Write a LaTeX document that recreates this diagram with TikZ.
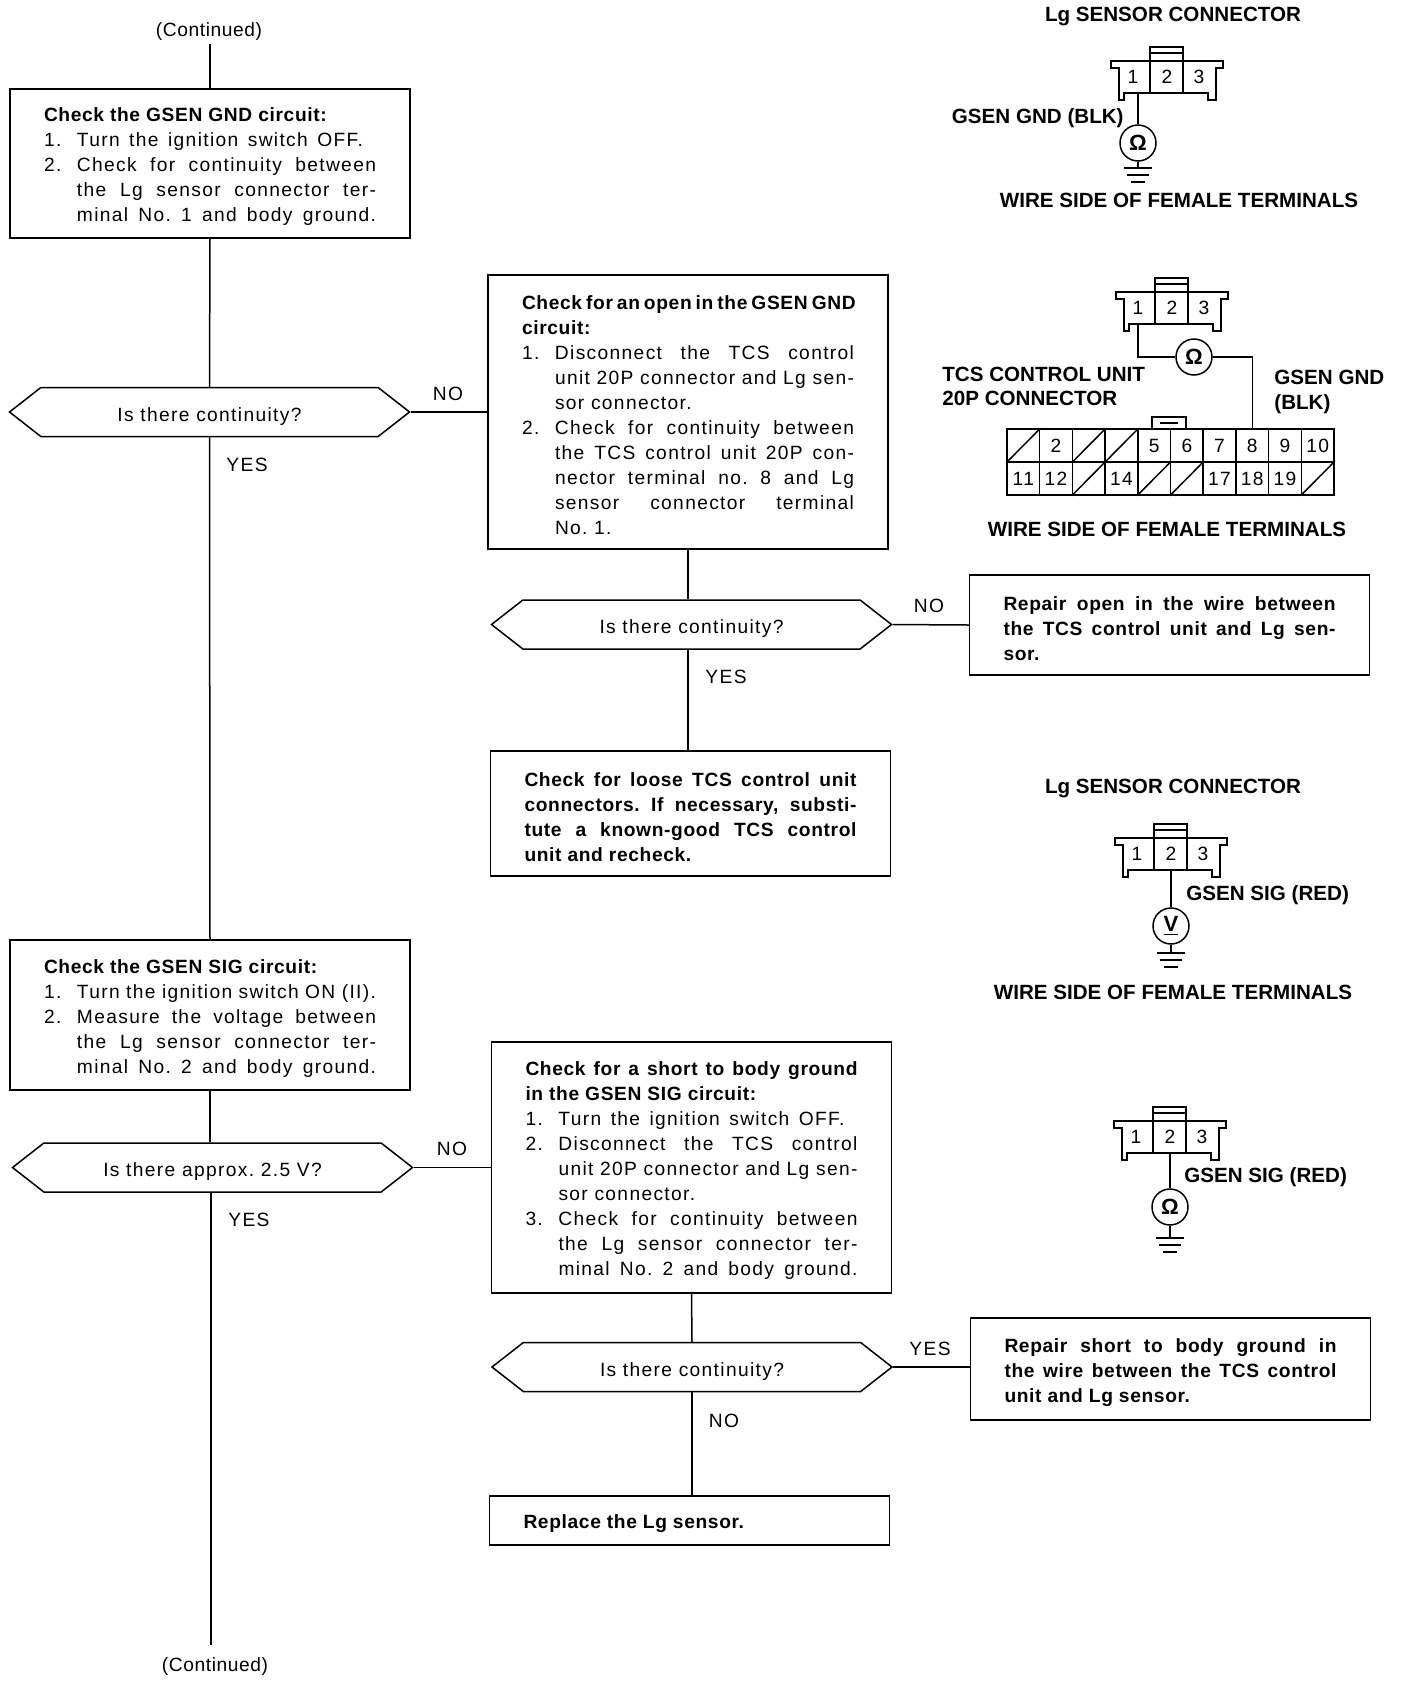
\documentclass[tikz,border=0pt]{standalone}
\usepackage{fontspec}
\setmainfont{Liberation Sans}[LetterSpace=7,BoldFeatures={LetterSpace=3.3}]
\newfontfamily\labelfont{Liberation Sans}
\newfontfamily\contfont{Liberation Sans}[LetterSpace=3]
\usetikzlibrary{shapes.symbols}
\newlength{\colwd}
\newlength{\itemwd}
\setlength{\colwd}{166pt}
\setlength{\itemwd}{149.5pt}
\newcommand{\fitline}[1]{\makebox[\colwd][s]{#1}}
\newcommand{\itemline}[2]{\makebox[16.5pt][l]{#1}#2}
\newcommand{\fititem}[2]{\makebox[16.5pt][l]{#1}\makebox[\itemwd][s]{#2}}
\newcommand{\offitem}[1]{\makebox[16.5pt][l]{#1}\makebox[143pt][s]{Turn the ignition switch OFF.}}
\newcommand{\contline}[1]{\hspace*{16.5pt}#1}
\newcommand{\fitcont}[1]{\hspace*{16.5pt}\makebox[\itemwd][s]{#1}}
\tikzset{
  wire/.style={line width=0.75pt},
  checkbox/.style={draw, line width=0.75pt, text width=166pt, inner xsep=17pt, inner ysep=0pt,
    align=flush left, minimum height=#1, font=\fontsize{9.6}{12.5}\selectfont\frenchspacing,
    execute at begin node={\rule{0pt}{10.2pt}}},
  ask/.style={draw, line width=0.75pt, signal, signal to=east and west, signal pointer angle=76,
    inner sep=0pt, minimum width=200pt, minimum height=24.5pt, text height=9pt, text depth=0pt,
    font=\fontsize{9.6}{12}\selectfont\frenchspacing},
  answer/.style={inner sep=0pt, font=\fontsize{9.6}{12}\selectfont},
  contlabel/.style={inner sep=0pt, font=\contfont\fontsize{9.6}{12}\selectfont},
  title/.style={inner sep=0pt, font=\labelfont\bfseries\fontsize{10.3}{12}\selectfont},
  pinnum/.style={inner sep=0pt, font=\fontsize{9.6}{12}\selectfont},
  meter/.style={draw, circle, line width=0.75pt, inner sep=0pt, minimum size=18pt, font=\labelfont\bfseries\fontsize{11}{12}\selectfont},
  cell/.style={draw, line width=0.75pt, inner sep=0pt, minimum width=16.35pt, minimum height=16.5pt, font=\fontsize{9.6}{12}\selectfont},
  lgconn/.pic={
    \draw[line width=0.9pt] (-56,0) -- (-56,7) -- (-48,7) -- (-48,39) -- (-43,39) -- (-43,32) -- (41,32)
      -- (41,39) -- (49,39) -- (49,7) -- (56,7) -- (56,0) -- cycle;
    \draw[wire] (-17,0) -- (-17,32) (16,0) -- (16,32);
    \draw[wire] (-17,0) -- (-17,-14) -- (16,-14) -- (16,0) (-17,-8) -- (16,-8);
    \foreach \n/\xpos in {1/-34,2/0,3/32}
      \node[pinnum] (-n\n) at (\xpos,16) {\n};
    \coordinate (-pin1) at (-30,32);
    \coordinate (-pin2) at (0,32);
  },
  gndbars/.pic={
    \draw[line width=0.9pt] (-14,0) -- (14,0);
    \draw[wire] (-11,7) -- (11,7);
    \draw[wire] (-7,14) -- (7,14);
  }
}
\begin{document}
\begin{tikzpicture}[x=0.5pt,y=-0.5pt]
\useasboundingbox (0,0) rectangle (1408,1682);

% flow chart, left column
\node[contlabel] (conttop) at (209,32) {(Continued)};
\coordinate (conttopend) at (210,44);
\node[checkbox=74.5pt] (boxa) at (210,163.5) {%
  \textbf{Check the GSEN GND circuit:}\\
  \offitem{1.}\\
  \fititem{2.}{Check for continuity between}\\
  \fitcont{the Lg sensor connector ter-}\\
  \fitcont{minal No. 1 and body ground.}};
\node[ask] (aska) at (209.5,412) {Is there continuity?};
\node[checkbox=75pt] (boxe) at (210,1015) {%
  \textbf{Check the GSEN SIG circuit:}\\
  \itemline{1.}{Turn the ignition switch ON (II).}\\
  \fititem{2.}{Measure the voltage between}\\
  \fitcont{the Lg sensor connector ter-}\\
  \fitcont{minal No. 2 and body ground.}};
\node[ask] (askc) at (212.5,1167.5) {Is there approx. 2.5 V?};
\node[contlabel] (contbot) at (215,1667) {(Continued)};
\coordinate (contbotend) at (211,1645);

% middle column
\node[checkbox=137pt] (boxb) at (688,412) {%
  \textbf{\fitline{Check for an open in the GSEN GND}}\\
  \textbf{circuit:}\\
  \fititem{1.}{Disconnect the TCS control}\\
  \fitcont{unit 20P connector and Lg sen-}\\
  \contline{sor connector.}\\
  \fititem{2.}{Check for continuity between}\\
  \fitcont{the TCS control unit 20P con-}\\
  \fitcont{nector terminal no. 8 and Lg}\\
  \fitcont{sensor connector terminal}\\
  \contline{No. 1.}};
\node[ask] (askb) at (691.5,624.5) {Is there continuity?};
\node[checkbox=62.5pt] (boxd) at (690.5,813.5) {\bfseries
  \fitline{Check for loose TCS control unit}\\
  \fitline{connectors. If necessary, substi-}\\
  \fitline{tute a known-good TCS control}\\
  unit and recheck.};
\node[checkbox=125.5pt] (boxf) at (691.5,1167.5) {%
  \textbf{\fitline{Check for a short to body ground}}\\
  \textbf{in the GSEN SIG circuit:}\\
  \offitem{1.}\\
  \fititem{2.}{Disconnect the TCS control}\\
  \fitcont{unit 20P connector and Lg sen-}\\
  \contline{sor connector.}\\
  \fititem{3.}{Check for continuity between}\\
  \fitcont{the Lg sensor connector ter-}\\
  \fitcont{minal No. 2 and body ground.}};
\node[ask] (askd) at (692,1367) {Is there continuity?};
\node[checkbox=24.5pt] (boxh) at (689.5,1520.5) {\textbf{Replace the Lg sensor.}};

% right column boxes
\node[checkbox=50pt] (boxc) at (1169.5,625) {\bfseries
  \fitline{Repair open in the wire between}\\
  \fitline{the TCS control unit and Lg sen-}\\
  sor.};
\node[checkbox=51pt] (boxg) at (1170.5,1369) {\bfseries
  \fitline{Repair short to body ground in}\\
  \fitline{the wire between the TCS control}\\
  unit and Lg sensor.};

% connectors
\draw[wire] (conttopend) -- (boxa.north);
\draw[wire] (boxa.south) -- (aska.north);
\draw[wire] (aska.south) -- (boxe.north);
\draw[wire] (aska.east) -- (boxb.west);
\draw[wire] (boxb.south) -- (boxb.south |- askb.north);
\draw[wire] (askb.east) -- (boxc.west);
\draw[wire] (boxb.south |- askb.south) -- (boxb.south |- boxd.north);
\draw[wire] (boxe.south) -- (boxe.south |- askc.north);
\draw[wire] (contbotend |- askc.south) -- (contbotend);
\draw[wire] (askc.east) -- (askc.east -| boxf.west);
\draw[wire] (boxf.south) -- (askd.north);
\draw[wire] (askd.east) -- (askd.east -| boxg.west);
\draw[wire] (askd.south) -- (askd.south |- boxh.north);

% yes / no
\node[answer] (noa) at (448,394) {NO};
\node[answer] (yesa) at (247,465) {YES};
\node[answer] (nob) at (929,606) {NO};
\node[answer] (yesb) at (726,677) {YES};
\node[answer] (noc) at (452,1149) {NO};
\node[answer] (yesc) at (249,1220) {YES};
\node[answer] (yesd) at (930,1349) {YES};
\node[answer] (nod) at (724,1421) {NO};

% first sensor connector
\node[title] (lga) at (1173,16) {Lg SENSOR CONNECTOR};
\pic (cona) at (1167,61) {lgconn};
\node[title, anchor=east] (gnda) at (1124,118) {GSEN GND (BLK)};
\node[meter] (meta) at (1138,143) {Ω};
\coordinate (grounda) at (1138,168);
\draw[wire] (cona-pin1) ++(1,0) -- (meta.north);
\draw[wire] (meta.south) -- (grounda);
\pic at (grounda) {gndbars};
\node[title] (wirea) at (1179,200) {WIRE SIDE OF FEMALE TERMINALS};

% open circuit check
\pic (conb) at (1172,292) {lgconn};
\node[meter] (metb) at (1194,357) {Ω};
\draw[wire] (conb-pin1) ++(-4,0) |- (metb.west);
\node[title, anchor=west] (tcsa) at (942,374) {TCS CONTROL UNIT};
\node[title, anchor=west] (tcsb) at (942,398) {20P CONNECTOR};
\node[title, anchor=west] (gndb) at (1274,377) {GSEN GND};
\node[title, anchor=west] (gndc) at (1274,404) {(BLK)};
\foreach \n [count=\i] in {0,2,0,0,5,6,7,8,9,10}
{
  \node[cell] (up\i) at ({1007+32.7*(\i-0.5)},445.5) {\ifnum\n>0 \n\fi};
  \ifnum\n=0 \draw[wire] (up\i.south west) -- (up\i.north east); \fi
}
\foreach \n [count=\i] in {11,12,0,14,0,0,17,18,19,0}
{
  \node[cell] (lo\i) at ({1007+32.7*(\i-0.5)},478.5) {\ifnum\n>0 \n\fi};
  \ifnum\n=0 \draw[wire] (lo\i.south west) -- (lo\i.north east); \fi
}
\draw[wire] (metb.east) -| (up8.north);
\draw[wire] (1152,429) -- (1152,417) -- (1186,417) -- (1186,429);
\draw[line width=1.2pt] (1160,423) -- (1178,423);
\node[title] (wireb) at (1167,529) {WIRE SIDE OF FEMALE TERMINALS};

% voltage check
\node[title] (lgb) at (1173,788) {Lg SENSOR CONNECTOR};
\pic (conc) at (1171,838) {lgconn};
\node[title, anchor=west] (sigc) at (1186,895) {GSEN SIG (RED)};
\node[meter] (metc) at (1171,926) {\underline{V}};
\coordinate (groundc) at (1171,953);
\draw[wire] (conc-pin2) -- (metc.north);
\draw[wire] (metc.south) -- (groundc);
\pic at (groundc) {gndbars};
\node[title] (wirec) at (1173,992) {WIRE SIDE OF FEMALE TERMINALS};

% short check
\pic (cond) at (1170,1121) {lgconn};
\node[title, anchor=west] (sigd) at (1184,1177) {GSEN SIG (RED)};
\node[meter] (metd) at (1170,1207) {Ω};
\coordinate (groundd) at (1170,1238);
\draw[wire] (cond-pin2) -- (metd.north);
\draw[wire] (metd.south) -- (groundd);
\pic at (groundd) {gndbars};
\end{tikzpicture}
\end{document}
